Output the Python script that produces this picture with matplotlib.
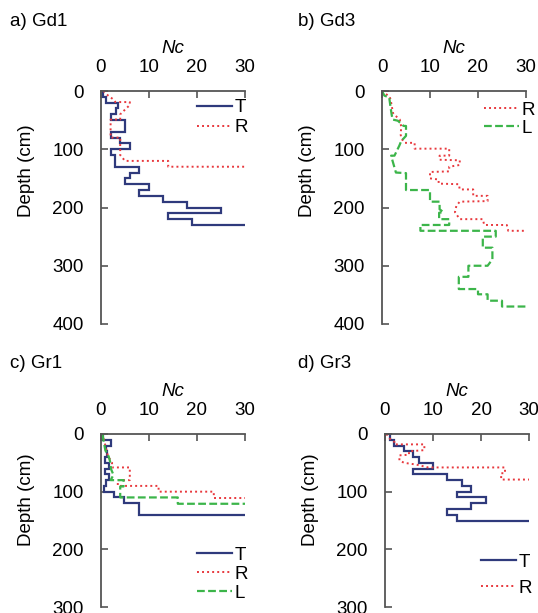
import matplotlib
matplotlib.use('Agg')
import matplotlib.pyplot as plt

plt.rcParams['font.family'] = ['Liberation Sans', 'DejaVu Sans']
plt.rcParams['font.size'] = 13.5

# ---------------- data ----------------
# Step profiles: value nc[i] applies from depth[i] to depth[i+1]; last value is end point
gd1_t_depth = [0, 10, 20, 30, 40, 50, 70, 80, 90, 100, 110, 130, 140, 150, 160, 170, 180, 190, 200, 210, 220, 230]
gd1_t_nc = [0.4, 1.0, 3.5, 3.2, 2.0, 5.0, 2.0, 4.0, 6.0, 2.0, 3.0, 8.0, 6.0, 5.0, 10.0, 8.0, 13.0, 18.0, 25.0, 14.0, 19.0, 30.0]

gr1_t_depth = [0, 10, 20, 30, 40, 50, 60, 70, 80, 90, 100, 110, 120, 140]
gr1_t_nc = [0.5, 2.0, 1.0, 1.3, 0.9, 1.6, 0.9, 1.6, 1.1, 0.7, 2.7, 4.7, 7.9, 30.0]

gr3_t_depth = [0, 10, 20, 30, 40, 50, 60, 70, 80, 90, 100, 110, 120, 130, 140, 150]
gr3_t_nc = [1.0, 1.9, 4.0, 5.9, 7.0, 10.0, 5.9, 12.9, 16.0, 18.0, 15.0, 21.0, 18.0, 12.9, 15.0, 30.0]

# Polyline profiles (Nc, depth)
gd1_r_nc = [0.5, 1.5, 2.5, 3.0, 6.0, 6.0, 5.0, 4.0, 4.0, 2.0, 2.0, 4.0, 4.0, 5.0, 14.0, 14.0, 30.0]
gd1_r_depth = [0, 8, 14, 19, 19, 24, 32, 40, 49, 49, 80, 80, 110, 120, 120, 130, 130]

gd3_r_nc = [0, 1.6, 1.8, 2.3, 2.6, 3.7, 4.0, 3.9, 4.0, 4.7, 6.8, 6.8, 14.0, 14.0, 12.0, 12.0, 16.2, 16.2,
            14.0, 14.0, 10.0, 10.0, 11.8, 11.8, 16.0, 16.2, 19.0, 19.0, 22.0, 22.0, 16.2, 15.5, 15.2,
            16.2, 21.0, 21.3, 26.0, 26.3, 30.0]
gd3_r_depth = [0, 10, 15, 38, 41, 49, 61, 75, 81, 89, 89, 99, 99, 111, 111, 118, 119, 127,
               130, 138, 139, 150, 152, 159, 160, 169, 169, 180, 180, 189, 190, 197, 208,
               220, 220, 230, 230, 240, 240]

gd3_l_nc = [0, 0.5, 1.5, 1.7, 2.0, 2.2, 3.3, 4.5, 5.0, 5.0, 4.0, 3.6, 2.6, 1.9, 2.2, 2.9, 5.0, 5.0,
            10.0, 10.0, 12.0, 12.0, 12.8, 11.9, 11.9, 14.0, 14.0, 8.0, 8.0, 23.7, 23.7, 21.0, 21.0,
            23.0, 23.0, 22.0, 18.0, 18.0, 16.0, 16.0, 20.0, 20.0, 22.0, 22.0, 25.0, 25.0, 30.0]
gd3_l_depth = [0, 8, 11, 23, 40, 49, 51, 60, 60, 77, 86, 94, 111, 111, 120, 140, 141, 170,
               170, 190, 190, 203, 208, 209, 220, 220, 230, 230, 240, 240, 250, 250, 269,
               269, 289, 300, 300, 319, 319, 340, 340, 349, 349, 360, 360, 370, 370]

gr1_r_nc = [0.2, 0.6, 0.9, 1.2, 1.5, 2.0, 2.3, 2.3, 6.0, 6.0, 3.5, 3.5, 12.0, 12.0, 23.5, 23.5, 30.0]
gr1_r_depth = [0, 8, 20, 30, 40, 45, 50, 58, 58, 80, 80, 90, 90, 100, 100, 111, 111]

gr1_l_nc = [0.3, 0.5, 0.9, 1.6, 1.9, 2.1, 2.6, 2.0, 4.7, 4.7, 4.0, 4.0, 16.0, 16.0, 30.0]
gr1_l_depth = [0, 10, 28, 39, 48, 61, 71, 80, 80, 91, 91, 110, 110, 121, 121]

gr3_r_nc = [0.3, 1.0, 2.0, 2.0, 8.2, 8.2, 5.0, 5.0, 3.0, 3.0, 4.0, 6.5, 9.0, 25.0, 25.0, 24.2, 24.2, 30.0]
gr3_r_depth = [0, 8, 14, 18, 18, 28, 30, 36, 37, 46, 50, 53, 58, 58, 68, 68, 79, 79]

gr3_l_nc = [0, 1.0, 2.0, 3.5, 4.0, 4.0, 2.5, 2.0, 4.0, 5.6, 5.6, 4.0, 4.0, 2.0, 2.0, 30.0]
gr3_l_depth = [0, 8, 10, 14, 20, 28, 30, 38, 38, 40, 48, 49, 66, 68, 89, 89]

# ---------------- style ----------------
C_T = '#2f3a7c'
C_R = '#e8383d'
C_L = '#3cb54a'
SPINE = '#555555'


def step_path(depth, nc):
    xs, ys = [], []
    for i in range(len(depth) - 1):
        xs += [nc[i], nc[i]]
        ys += [depth[i], depth[i + 1]]
    xs.append(nc[-1])
    ys.append(depth[-1])
    return xs, ys


def plot_T(ax, depth, nc):
    xs, ys = step_path(depth, nc)
    return ax.plot(xs, ys, color=C_T, lw=1.6, label='T', solid_joinstyle='miter')[0]


def plot_R(ax, nc, depth):
    return ax.plot(nc, depth, color=C_R, lw=1.4, ls=(0, (1, 1.6)), label='R')[0]


def plot_L(ax, nc, depth):
    return ax.plot(nc, depth, color=C_L, lw=1.6, ls=(0, (3.5, 1.5)), label='L')[0]


def setup(ax, ymax, label_y):
    ax.set_xlim(0, 30)
    ax.set_ylim(ymax, 0)
    ax.set_xticks([0, 10, 20, 30])
    ax.set_yticks(list(range(0, ymax + 1, 100)))
    ax.xaxis.tick_top()
    ax.xaxis.set_label_position('top')
    ax.set_xlabel('Nc', style='italic', labelpad=4)
    ax.set_ylabel('Depth (cm)')
    ax.yaxis.set_label_coords(-0.455, label_y)
    for s in ['right', 'bottom']:
        ax.spines[s].set_visible(False)
    for s in ['top', 'left']:
        ax.spines[s].set_color(SPINE)
        ax.spines[s].set_linewidth(1.3)
    ax.tick_params(axis='x', direction='in', length=5, width=1.2, color=SPINE, pad=11)
    ax.tick_params(axis='y', direction='in', length=5, width=1.2, color=SPINE, pad=12.5)
    ax.patch.set_alpha(0)


W, H = 538, 613
fig = plt.figure(figsize=(W / 100, H / 100), dpi=100)


def axes_px(left, top, right, bottom):
    return fig.add_axes([left / W, 1 - bottom / H, (right - left) / W, (bottom - top) / H])


LEG = dict(frameon=False, handlelength=1.85, handletextpad=0.15, borderpad=0, borderaxespad=0)

# a) Gd1
ax = axes_px(101, 91, 245, 324)
setup(ax, 400, 0.66)
plot_T(ax, gd1_t_depth, gd1_t_nc)
plot_R(ax, gd1_r_nc, gd1_r_depth)
ax.legend(loc='upper right', bbox_to_anchor=(1.02, 0.965), labelspacing=0.15, **LEG)
fig.text(10 / W, 1 - 21 / H, 'a) Gd1', va='center', ha='left')

# b) Gd3
ax = axes_px(382, 91, 526, 324)
setup(ax, 400, 0.66)
plot_R(ax, gd3_r_nc, gd3_r_depth)
plot_L(ax, gd3_l_nc, gd3_l_depth)
ax.legend(loc='upper right', bbox_to_anchor=(1.065, 0.955), labelspacing=0.05, **LEG)
fig.text(298 / W, 1 - 21 / H, 'b) Gd3', va='center', ha='left')

# c) Gr1
ax = axes_px(101, 434, 245, 607)
setup(ax, 300, 0.62)
plot_T(ax, gr1_t_depth, gr1_t_nc)
plot_R(ax, gr1_r_nc, gr1_r_depth)
plot_L(ax, gr1_l_nc, gr1_l_depth)
ax.legend(loc='lower right', bbox_to_anchor=(1.02, 0.03), labelspacing=0.1, **LEG)
fig.text(10 / W, 1 - 364 / H, 'c) Gr1', va='center', ha='left')

# d) Gr3
ax = axes_px(385, 434, 529, 607)
setup(ax, 300, 0.62)
plot_T(ax, gr3_t_depth, gr3_t_nc)
plot_R(ax, gr3_r_nc, gr3_r_depth)
ax.legend(loc='lower right', bbox_to_anchor=(1.02, 0.06), labelspacing=0.45, **LEG)
fig.text(298 / W, 1 - 364 / H, 'd) Gr3', va='center', ha='left')

fig.savefig('out.png', dpi=100)
